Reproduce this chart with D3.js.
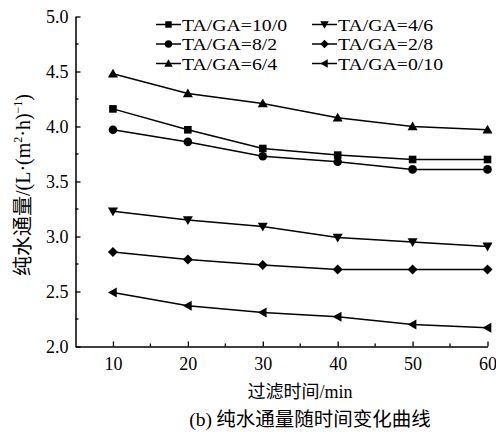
<!DOCTYPE html>
<html><head><meta charset="utf-8">
<script src="https://cdn.jsdelivr.net/npm/d3@7"></script>
<style>body{margin:0;background:#fff}</style>
</head><body>
<svg id="c" width="496" height="432"></svg>
<script>
const times = [10, 20, 30, 40, 50, 60];
const seriesNames = ["TA/GA=10/0", "TA/GA=8/2", "TA/GA=6/4", "TA/GA=4/6", "TA/GA=2/8", "TA/GA=0/10"];
const s10_0 = [4.16, 3.97, 3.80, 3.74, 3.70, 3.70];
const s8_2  = [3.97, 3.86, 3.73, 3.68, 3.61, 3.61];
const s6_4  = [4.48, 4.30, 4.21, 4.08, 4.00, 3.97];
const s4_6  = [3.23, 3.15, 3.09, 2.99, 2.95, 2.91];
const s2_8  = [2.86, 2.79, 2.74, 2.70, 2.70, 2.70];
const s0_10 = [2.49, 2.37, 2.31, 2.27, 2.20, 2.17];
const yTicks = [2.0, 2.5, 3.0, 3.5, 4.0, 4.5, 5.0];
const xTicks = [10, 20, 30, 40, 50, 60];
const seriesValues = [s10_0, s8_2, s6_4, s4_6, s2_8, s0_10];
const markers = ["square", "circle", "up", "down", "diamond", "left"];

const svg = d3.select("#c");
const serif = "'Liberation Serif','Times New Roman',serif";
const cjkFont = "'Noto Sans CJK SC',sans-serif";
const x = d3.scaleLinear().domain([5, 60]).range([75.5, 487.5]);
const y = d3.scaleLinear().domain([2, 5]).range([346.5, 16.5]);

// axes
const xAxis = d3.axisBottom(x).tickValues(xTicks).tickSizeInner(-5).tickSizeOuter(0).tickFormat(d3.format("d")).tickPadding(10);
const gx = svg.append("g").attr("transform", "translate(0,346.5)").call(xAxis);
const yAxis = d3.axisLeft(y).tickValues(yTicks).tickSizeInner(-5).tickSizeOuter(0).tickFormat(d3.format(".1f")).tickPadding(7);
const gy = svg.append("g").attr("transform", "translate(75.5,0)").call(yAxis);
[gx, gy].forEach(g => {
  g.select(".domain").attr("stroke", "#000").attr("stroke-width", 1.5);
  g.selectAll(".tick line").attr("stroke", "#000").attr("stroke-width", 1.3);
  g.selectAll("text").attr("font-family", serif).attr("font-size", 18).attr("fill", "#000");
});
gx.selectAll("text").attr("dy", "0.75em");
// minor ticks
const xMinor = [15, 25, 35, 45, 55];
svg.append("g").selectAll("line").data(xMinor).join("line")
  .attr("x1", d => x(d)).attr("x2", d => x(d)).attr("y1", 346.5).attr("y2", 343.5)
  .attr("stroke", "#000").attr("stroke-width", 1.3);
const yMinor = [2.25, 2.75, 3.25, 3.75, 4.25, 4.75];
svg.append("g").selectAll("line").data(yMinor).join("line")
  .attr("y1", d => y(d)).attr("y2", d => y(d)).attr("x1", 75.5).attr("x2", 78.5)
  .attr("stroke", "#000").attr("stroke-width", 1.3);

function drawMarker(g, type, cx, cy, k) {
  k = k || 1;
  let p;
  switch (type) {
    case "square": g.append("rect").attr("x", cx - 3.8 * k).attr("y", cy - 3.8 * k).attr("width", 7.6 * k).attr("height", 7.6 * k); return;
    case "circle": g.append("circle").attr("cx", cx).attr("cy", cy).attr("r", 4.3 * k); return;
    case "up": p = [[0, -5], [5, 3.8], [-5, 3.8]]; break;
    case "down": p = [[0, 5], [5, -3.8], [-5, -3.8]]; break;
    case "diamond": p = [[0, -5], [5, 0], [0, 5], [-5, 0]]; break;
    case "left": p = [[-5, 0], [3.8, -5], [3.8, 5]]; break;
  }
  g.append("polygon").attr("points", p.map(d => [cx + d[0] * k, cy + d[1] * k].join(",")).join(" "));
}

const line = d3.line().x((d, i) => x(times[i])).y(d => y(d));
seriesValues.forEach((vals, k) => {
  const g = svg.append("g").attr("fill", "#000");
  g.append("path").attr("d", line(vals)).attr("fill", "none").attr("stroke", "#000").attr("stroke-width", 1.5);
  vals.forEach((v, i) => drawMarker(g, markers[k], x(times[i]), y(v)));
});

// legend
const legCols = [156, 312];
const legRows = [24.5, 44, 63.5];
seriesNames.forEach((name, k) => {
  const col = Math.floor(k / 3), row = k % 3;
  const lx = legCols[col], ly = legRows[row];
  const g = svg.append("g").attr("fill", "#000");
  g.append("line").attr("x1", lx).attr("x2", lx + 25).attr("y1", ly).attr("y2", ly).attr("stroke", "#000").attr("stroke-width", 1.5);
  drawMarker(g, markers[k], lx + 12.5, ly, 0.85);
  g.append("text").attr("transform", `translate(${lx + 26},${ly}) scale(1.13,1)`).attr("dy", "0.35em")
    .attr("font-family", serif).attr("font-size", 17.5).text(name);
});

// axis labels
svg.append("text").attr("transform", "translate(30,185) rotate(-90)").attr("text-anchor", "middle")
  .attr("font-family", serif).attr("font-size", 20).attr("fill", "#000")
  .html("<tspan font-family=\"" + cjkFont + "\">纯水通量</tspan>/(L·(m<tspan dy='-8' font-size='12'>2</tspan><tspan dy='8'>·h)</tspan><tspan dy='-8' font-size='12'>−1</tspan><tspan dy='8'>)</tspan>");
svg.append("text").attr("x", 300).attr("y", 398).attr("text-anchor", "middle")
  .attr("font-family", serif).attr("font-size", 18).attr("fill", "#000")
  .html("<tspan font-family=\"" + cjkFont + "\">过滤时间</tspan>/min");
svg.append("text").attr("x", 310).attr("y", 426).attr("text-anchor", "middle")
  .attr("font-family", serif).attr("font-size", 19.5).attr("fill", "#000")
  .html("(b)<tspan font-family=\"" + cjkFont + "\"> 纯水通量随时间变化曲线</tspan>");
</script>
</body></html>
